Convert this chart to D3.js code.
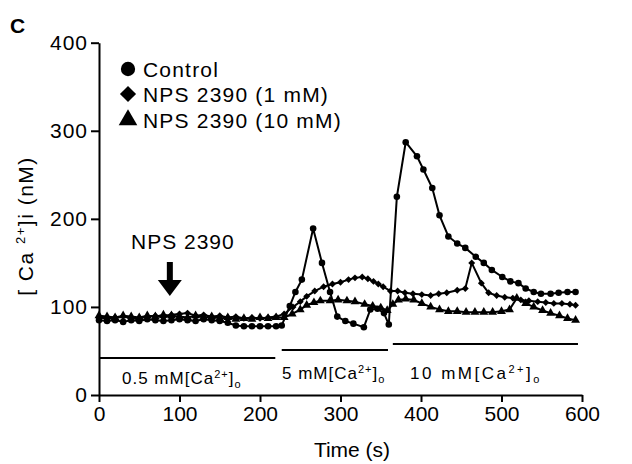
<!DOCTYPE html>
<html>
<head>
<meta charset="utf-8">
<script src="https://cdn.jsdelivr.net/npm/d3@7"></script>
<style>
  body { margin: 0; background: #fff; }
  svg { display: block; font-family: "Liberation Sans", Arial, sans-serif; }
  .axis path, .axis line { stroke: #000; stroke-width: 2; }
  .axis text { font-size: 21px; fill: #000; }
  .axis-y text { letter-spacing: 1px; }
</style>
</head>
<body>
<div id="chart"></div>
<script>
// time (s) and [Ca2+]i (nM)
const controlTime = [0,10,20,30,40,50,60,70,80,90,100,110,120,130,140,150,160,170,180,190,200,210,220,227,237,244,252,266,277,287,296,306,316,329,337,346,354,360,370,381,395,403,414,423,434,445,455,468,478,488,501,511,521,530,540,549,561,571,582,592];
const controlCa = [85,84,85,83,85,84,86,85,84,85,86,85,84,86,85,84,82,79,78,78,78,78,78,79,101,117,131,189,150,117,89,84,81,77,97,98,93,80,225,287,271,256,235,204,180,172,167,157,150,142,134,129,127,121,117,115,115,116,117,117];

const nps1Time = [0,10,20,30,40,50,60,70,80,90,100,110,120,130,140,150,160,170,180,190,200,210,220,230,241,250,258,268,279,290,300,310,318,327,334,341,347,353,362,371,380,390,401,412,422,432,445,455,463,475,484,494,504,514,524,534,545,555,565,575,585,592];
const nps1Ca = [88,87,88,89,88,87,89,90,88,91,92,93,90,91,89,90,88,89,87,88,87,88,89,92,100,106,112,118,123,126,128,131,133,134,132,129,126,123,118,118,116,115,114,113,115,116,119,121,150,127,116,113,111,110,108,107,106,105,104,104,103,102];

const nps10Time = [0,10,20,30,40,50,60,70,80,90,100,110,120,130,140,150,160,170,180,190,200,210,220,230,240,250,258,267,275,287,297,308,318,330,340,350,358,365,372,381,391,401,412,423,434,445,456,467,478,489,500,510,519,530,540,551,561,572,582,592];
const nps10Ca = [90,89,88,90,89,88,90,89,91,90,89,88,90,88,89,87,88,86,87,86,88,87,88,88,92,97,102,105,107,107,108,107,106,103,101,99,96,103,108,109,108,104,100,97,95,95,94,94,94,94,95,97,110,104,100,96,93,90,87,85];

const seriesNames = ['Control', 'NPS 2390 (1 mM)', 'NPS 2390 (10 mM)'];
const xTicks = [0,100,200,300,400,500,600];
const yTicks = [0,100,200,300,400];

// bath [Ca2+]o periods: start, end (s)
const bathLabels = ['0.5', '5', '10'];
const bathStart = [0, 227, 365];
const bathEnd = [219, 359, 595];

const W = 632, H = 464;
const x = d3.scaleLinear().domain([0,600]).range([99,582]);
const y = d3.scaleLinear().domain([0,400]).range([395,42.7]);

const svg = d3.select('#chart').append('svg')
  .attr('width', W).attr('height', H);

////////////////////////////////////////////////////////////////////

const axisY = d3.axisLeft(y).tickValues(yTicks).tickSize(8).tickSizeOuter(0).tickPadding(3);
svg.append('g').attr('class','axis axis-y')
  .attr('transform', `translate(${x(0)},0)`)
  .call(axisY);

const axisX = d3.axisBottom(x).tickValues(xTicks).tickSize(7).tickSizeOuter(0).tickPadding(4);
svg.append('g').attr('class','axis axis-x')
  .attr('transform', `translate(0,${y(0)})`)
  .call(axisX);

svg.append('text')
  .attr('x', 352).attr('y', 457)
  .attr('text-anchor','middle')
  .style('font-size','21px')
  .text('Time (s)');

const yl = svg.append('text')
  .attr('transform','translate(33,226) rotate(-90)')
  .attr('text-anchor','middle')
  .style('font-size','21px')
  .style('letter-spacing','1.5px');
yl.append('tspan').text('[ Ca ');
yl.append('tspan').attr('dy', -8).style('font-size','13px').text('2+');
yl.append('tspan').attr('dy', 8).text(']i (nM)');

svg.append('text')
  .attr('x', 10).attr('y', 33)
  .style('font-size','21px').style('font-weight','bold')
  .text('C');

////////////////////////////////////////////////////////////////////

const shapes = [d3.symbolCircle, d3.symbolSquare, d3.symbolTriangle];
const rot = [0, 45, 0];
const series = [
  {name: seriesNames[0], t: controlTime, v: controlCa},
  {name: seriesNames[1], t: nps1Time, v: nps1Ca},
  {name: seriesNames[2], t: nps10Time, v: nps10Ca}
];

const line = d3.line().x(d => x(d[0])).y(d => y(d[1]));

series.forEach((s,k) => {
  const pts = s.t.map((t,i) => [t, s.v[i]]);
  svg.append('path')
    .datum(pts)
    .attr('d', line)
    .attr('fill','none')
    .attr('stroke','#000')
    .attr('stroke-width', 2);
  svg.selectAll(null)
    .data(pts)
    .enter().append('path')
    .attr('transform', d => `translate(${x(d[0])},${y(d[1])}) rotate(${rot[k]})`)
    .attr('d', d3.symbol().type(shapes[k]).size(k === 1 ? 24 : 34))
    .attr('fill','#000');
});

////////////////////////////////////////////////////////////////////

// legend
const legendY = [69, 94, 120];
const legendSize = [160, 130, 150];
series.forEach((s,i) => {
  svg.append('path')
    .attr('transform', `translate(128,${legendY[i]}) rotate(${rot[i]})`)
    .attr('d', d3.symbol().type(shapes[i]).size(legendSize[i]))
    .attr('fill','#000');
  svg.append('text')
    .attr('x', 143).attr('y', legendY[i] + 8)
    .style('font-size','21px')
    .style('letter-spacing','1.2px')
    .text(s.name);
});

// NPS 2390 arrow
svg.append('text')
  .attr('x', 131).attr('y', 249)
  .style('font-size','21px')
  .style('letter-spacing','1px')
  .text('NPS 2390');
svg.append('rect')
  .attr('x', x(88) - 3).attr('y', 262).attr('width', 6).attr('height', 20)
  .attr('fill','#000');
svg.append('path')
  .attr('d', `M${x(88)-12},280 L${x(88)+12},280 L${x(88)},296 Z`)
  .attr('fill','#000');

////////////////////////////////////////////////////////////////////

// bath concentration bars
const barY = [358, 350, 344];
const labX = [122, 282, 410];
const labSpacing = [1, 1, 2.5];
bathLabels.forEach((b,i) => {
  svg.append('line')
    .attr('x1', x(bathStart[i])).attr('x2', x(bathEnd[i]))
    .attr('y1', barY[i]).attr('y2', barY[i])
    .attr('stroke','#000').attr('stroke-width', 2);
  const t = svg.append('text')
    .attr('x', labX[i]).attr('y', i === 0 ? 384 : 379)
    .style('font-size','17px')
    .style('letter-spacing', labSpacing[i] + 'px');
  t.append('tspan').text(b + ' mM[Ca');
  t.append('tspan').attr('dy', -6).style('font-size','11px').text('2+');
  t.append('tspan').attr('dy', 6).text(']');
  t.append('tspan').attr('dy', 4).style('font-size','11px').text('o');
});
</script>
</body>
</html>
